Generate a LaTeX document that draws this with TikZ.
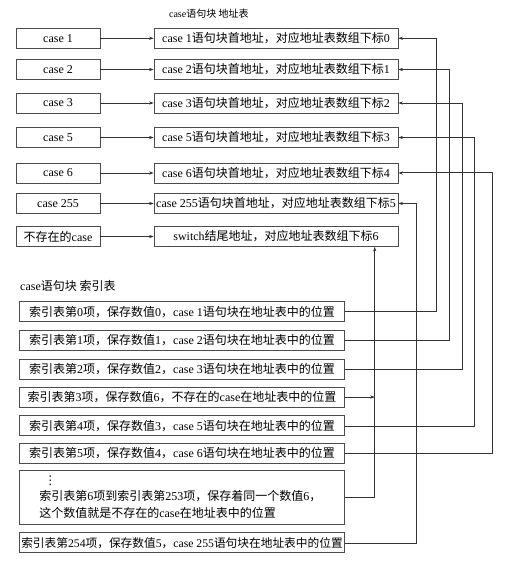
\documentclass[tikz,border=0pt]{standalone}
\usepackage{fontspec}
\setmainfont{Liberation Serif}
\newfontfamily\zhfont{Noto Sans CJK SC}
\newfontfamily\symfont{DejaVu Sans}
\newcommand\zw[1]{{\zhfont #1}}
\usetikzlibrary{arrows.meta,calc}
\begin{document}
\begin{tikzpicture}[x=1pt,y=-1pt,
  box/.style={draw=black!70, line width=0.8pt, rectangle, inner sep=0pt, minimum height=20pt, font=\fontsize{12}{14}\selectfont},
  lbox/.style={box, minimum width=84pt},
  abox/.style={box, minimum width=244pt},
  ibox/.style={box, minimum width=325.4pt},
  arr/.style={draw=black!80, line width=0.6pt, -{Stealth[length=4.5pt,width=3.2pt]}},
  con/.style={draw=black!80, line width=0.6pt}]
\path[use as bounding box] (0,0) rectangle (508,561);

% titles
\node[font=\fontsize{10}{12}\selectfont, inner sep=0pt] (t1) at (208.8,13.3) {case\zw{语句块 地址表}};
\node[anchor=west, font=\fontsize{12}{14}\selectfont, inner sep=0pt] (t2) at (20,286) {case\zw{语句块 索引表}};

% left boxes
\node[lbox] (l1) at (58,38.3) {case 1};
\node[lbox] (l2) at (58,69.5) {case 2};
\node[lbox] (l3) at (58,103) {case 3};
\node[lbox] (l5) at (58,137.5) {case 5};
\node[lbox] (l6) at (58,173) {case 6};
\node[lbox] (l255) at (58,203.5) {case 255};
\node[lbox] (lN) at (58,236.5) {\zw{不存在的}case};

% address table
\node[abox] (a0) at (276,38.3) {case 1\zw{语句块首地址，对应地址表数组下标}0};
\node[abox] (a1) at (276,69.5) {case 2\zw{语句块首地址，对应地址表数组下标}1};
\node[abox] (a2) at (276,103) {case 3\zw{语句块首地址，对应地址表数组下标}2};
\node[abox] (a3) at (276,137.5) {case 5\zw{语句块首地址，对应地址表数组下标}3};
\node[abox] (a4) at (276,173) {case 6\zw{语句块首地址，对应地址表数组下标}4};
\node[abox] (a5) at (276,203.5) {case 255\zw{语句块首地址，对应地址表数组下标}5};
\node[abox] (a6) at (276,236.5) {switch\zw{结尾地址，对应地址表数组下标}6};

\draw[arr] (l1) -- (a0);
\draw[arr] (l2) -- (a1);
\draw[arr] (l3) -- (a2);
\draw[arr] (l5) -- (a3);
\draw[arr] (l6) -- (a4);
\draw[arr] (l255) -- (a5);
\draw[arr] (lN) -- (a6);

% index table
\node[ibox] (i0) at (182,311.7) {\zw{索引表第}0\zw{项，保存数值}0\zw{，}case 1\zw{语句块在地址表中的位置}};
\node[ibox] (i1) at (182,340.5) {\zw{索引表第}1\zw{项，保存数值}1\zw{，}case 2\zw{语句块在地址表中的位置}};
\node[ibox] (i2) at (182,369) {\zw{索引表第}2\zw{项，保存数值}2\zw{，}case 3\zw{语句块在地址表中的位置}};
\node[ibox] (i3) at (182,397) {\zw{索引表第}3\zw{项，保存数值}6\zw{，不存在的}case\zw{在地址表中的位置}};
\node[ibox] (i4) at (182,425.8) {\zw{索引表第}4\zw{项，保存数值}3\zw{，}case 5\zw{语句块在地址表中的位置}};
\node[ibox] (i5) at (182,453.3) {\zw{索引表第}5\zw{项，保存数值}4\zw{，}case 6\zw{语句块在地址表中的位置}};
\node[ibox, minimum height=54pt, align=left, text width=285.4pt, font=\fontsize{12}{16.7}\selectfont] (i6) at (182,497)
  {\hspace*{5pt}{\symfont ⋮}\\\zw{索引表第}6\zw{项到索引表第}253\zw{项，保存着同一个数值}6\zw{，}\\\zw{这个数值就是不存在的}case\zw{在地址表中的位置}};
\node[ibox, font=\fontsize{11.7}{14}\selectfont] (i254) at (182,542.8) {\zw{索引表第}254\zw{项，保存数值}5\zw{，}case 255\zw{语句块在地址表中的位置}};

% vertical rails
\coordinate (vS) at (374.7,0);
\coordinate (v5) at (416.3,0);
\coordinate (v0) at (436.3,0);
\coordinate (v1) at (449.7,0);
\coordinate (v2) at (462.3,0);
\coordinate (v3) at (474,0);
\coordinate (v4) at (492.3,0);

\draw[arr] (i0.east) -- (i0.east -| v0) -- (a0.east -| v0) -- (a0.east);
\draw[arr] (i1.east) -- (i1.east -| v1) -- (a1.east -| v1) -- (a1.east);
\draw[arr] (i2.east) -- (i2.east -| v2) -- (a2.east -| v2) -- (a2.east);
\draw[arr] (i3.east) -- (i3.east -| vS);
\draw[arr] (i4.east) -- (i4.east -| v3) -- (a3.east -| v3) -- (a3.east);
\draw[arr, line width=1pt] (i5.east) -- (i5.east -| v4) -- (a4.east -| v4) -- (a4.east);
\draw[arr] (i6.east) -- (i6.east -| vS) -- (a6.south -| vS);
\draw[arr] (i254.east) -- (i254.east -| v5) -- (a5.east -| v5) -- (a5.east);
\end{tikzpicture}
\end{document}
